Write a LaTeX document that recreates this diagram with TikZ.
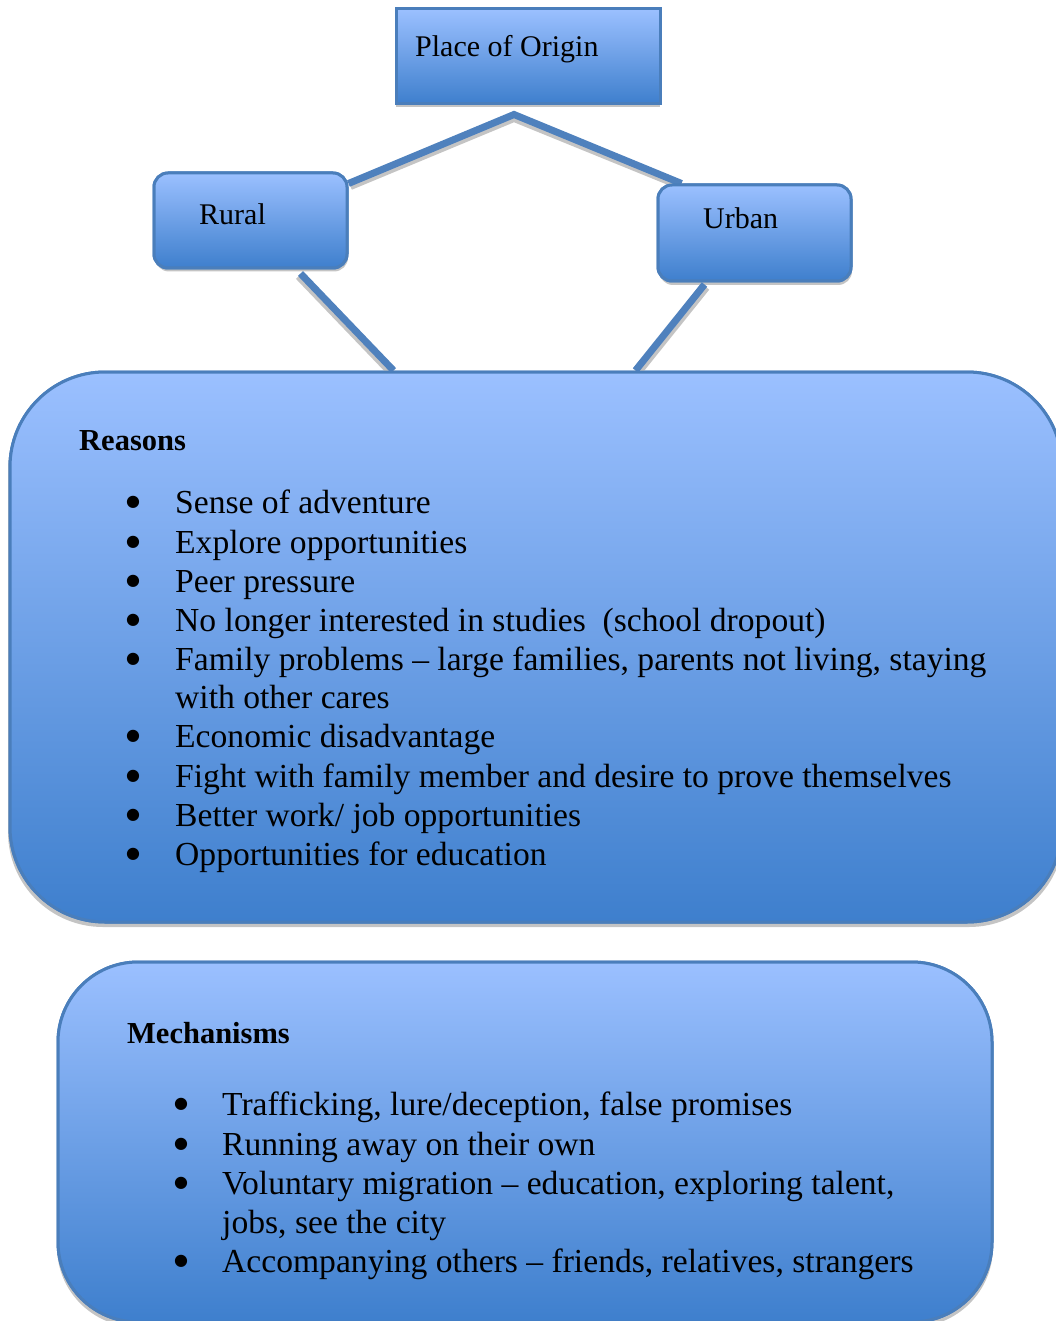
\documentclass[tikz,border=0pt]{standalone}
\usepackage{fontspec}
\setmainfont{Liberation Serif}
\newfontfamily\symfont{DejaVu Sans}
\usetikzlibrary{calc}
\definecolor{bordc}{HTML}{4A7EBB}
\definecolor{linec}{HTML}{4F81BD}
\definecolor{topc}{HTML}{9BC0FF}
\definecolor{botc}{HTML}{3E7FCD}
\definecolor{shadc}{HTML}{C4C4C4}
\tikzset{
  boxbase/.style={draw=bordc, line width=3pt, top color=topc, bottom color=botc, inner sep=0pt},
  shadowbox/.style={fill=shadc, draw=none, inner sep=0pt},
  conn/.style={draw=linec, line width=7pt},
  connshadow/.style={draw=shadc, line width=7pt},
  txt/.style={anchor=base west, inner sep=0pt, font=\fontsize{33.6}{39}\selectfont},
  hdr/.style={anchor=base west, inner sep=0pt, font=\fontsize{30}{34}\selectfont},
  bhdr/.style={anchor=base west, inner sep=0pt, font=\bfseries\fontsize{30.5}{34}\selectfont},
  bul/.style={anchor=base, inner sep=0pt, font=\symfont\fontsize{16}{18}\selectfont},
}
\begin{document}
\begin{tikzpicture}[x=1pt,y=-1pt]
\useasboundingbox (0,0) rectangle (1056,1321);
\clip (0,0) rectangle (1056,1321);
% shadows
\node[shadowbox, minimum width=264pt, minimum height=95pt] at (528,60) {};
\node[shadowbox, minimum width=193pt, minimum height=95pt, rounded corners=14pt] at (251.5,224) {};
\node[shadowbox, minimum width=193pt, minimum height=96pt, rounded corners=14pt] at (755.5,237) {};
\node[shadowbox, minimum width=1056pt, minimum height=552pt, rounded corners=95pt] at (536,651) {};
\node[shadowbox, minimum width=936pt, minimum height=362pt, rounded corners=80pt] at (525,1146) {};
% boxes (defined for anchors)
\node[boxbase, minimum width=264pt, minimum height=95pt] (origin) at (528,56.5) {};
\node[boxbase, minimum width=193pt, minimum height=95pt, rounded corners=14pt] (rural) at (250.5,220.5) {};
\node[boxbase, minimum width=193pt, minimum height=96pt, rounded corners=14pt] (urban) at (754.5,233) {};
\node[boxbase, minimum width=1052pt, minimum height=550pt, rounded corners=95pt] (reasons) at (536,647) {};
\node[boxbase, minimum width=934pt, minimum height=360pt, rounded corners=80pt] (mech) at (525,1142) {};
% connectors
\coordinate (apex) at ($(origin.south)+(-14,9)$);
\draw[connshadow] ($(rural.east)+(2,-34)$) -- ($(apex)+(0,4)$) -- ($(urban.north west)+(27,4)$);
\draw[connshadow] ($(rural.south)+(48,7)$) -- ($(reasons.north west)+(383,3)$);
\draw[connshadow] ($(urban.south)+(-48,5)$) -- ($(reasons.north west)+(629,3)$);
\draw[conn] ($(rural.east)+(0,-37)$) -- (apex) -- ($(urban.north west)+(25,0)$);
\draw[conn] ($(rural.south)+(50,4)$) -- ($(reasons.north west)+(385,0)$);
\draw[conn] ($(urban.south)+(-50,2)$) -- ($(reasons.north west)+(627,0)$);
% redraw boxes on top of connectors
\node[boxbase, minimum width=264pt, minimum height=95pt] at (origin) {};
\node[boxbase, minimum width=193pt, minimum height=95pt, rounded corners=14pt] at (rural) {};
\node[boxbase, minimum width=193pt, minimum height=96pt, rounded corners=14pt] at (urban) {};
\node[boxbase, minimum width=1052pt, minimum height=550pt, rounded corners=95pt] at (reasons) {};
\node[boxbase, minimum width=934pt, minimum height=360pt, rounded corners=80pt] at (mech) {};
% texts
\node[hdr] (t1) at (415,57) {Place of Origin};
\node[hdr] (t2) at (199,225) {Rural};
\node[hdr] (t3) at (703,229) {Urban};
\node[bhdr] (rh) at (79,450) {Reasons};
\foreach \y/\t [count=\i] in {
  513/{Sense of adventure},
  553/{Explore opportunities},
  592/{Peer pressure},
  631/{No longer interested in studies\ \ (school dropout)},
  670/{Family problems – large families, parents not living, staying},
  747/{Economic disadvantage},
  787/{Fight with family member and desire to prove themselves},
  826/{Better work/ job opportunities},
  865/{Opportunities for education}}{
  \node[bul] (rb\i) at (133,\y-7) {●};
  \node[txt] (r\i) at (175,\y) {\t};
}
\node[txt] (rwrap) at (175,708) {with other cares};
\node[bhdr] (mh) at (127,1043) {Mechanisms};
\foreach \y/\t [count=\i] in {
  1115/{Trafficking, lure/deception, false promises},
  1155/{Running away on their own},
  1194/{Voluntary migration – education, exploring talent,},
  1272/{Accompanying others – friends, relatives, strangers}}{
  \node[bul] (mb\i) at (181,\y-7) {●};
  \node[txt] (m\i) at (222,\y) {\t};
}
\node[txt] (mwrap) at (222,1233) {jobs, see the city};
\end{tikzpicture}
\end{document}
